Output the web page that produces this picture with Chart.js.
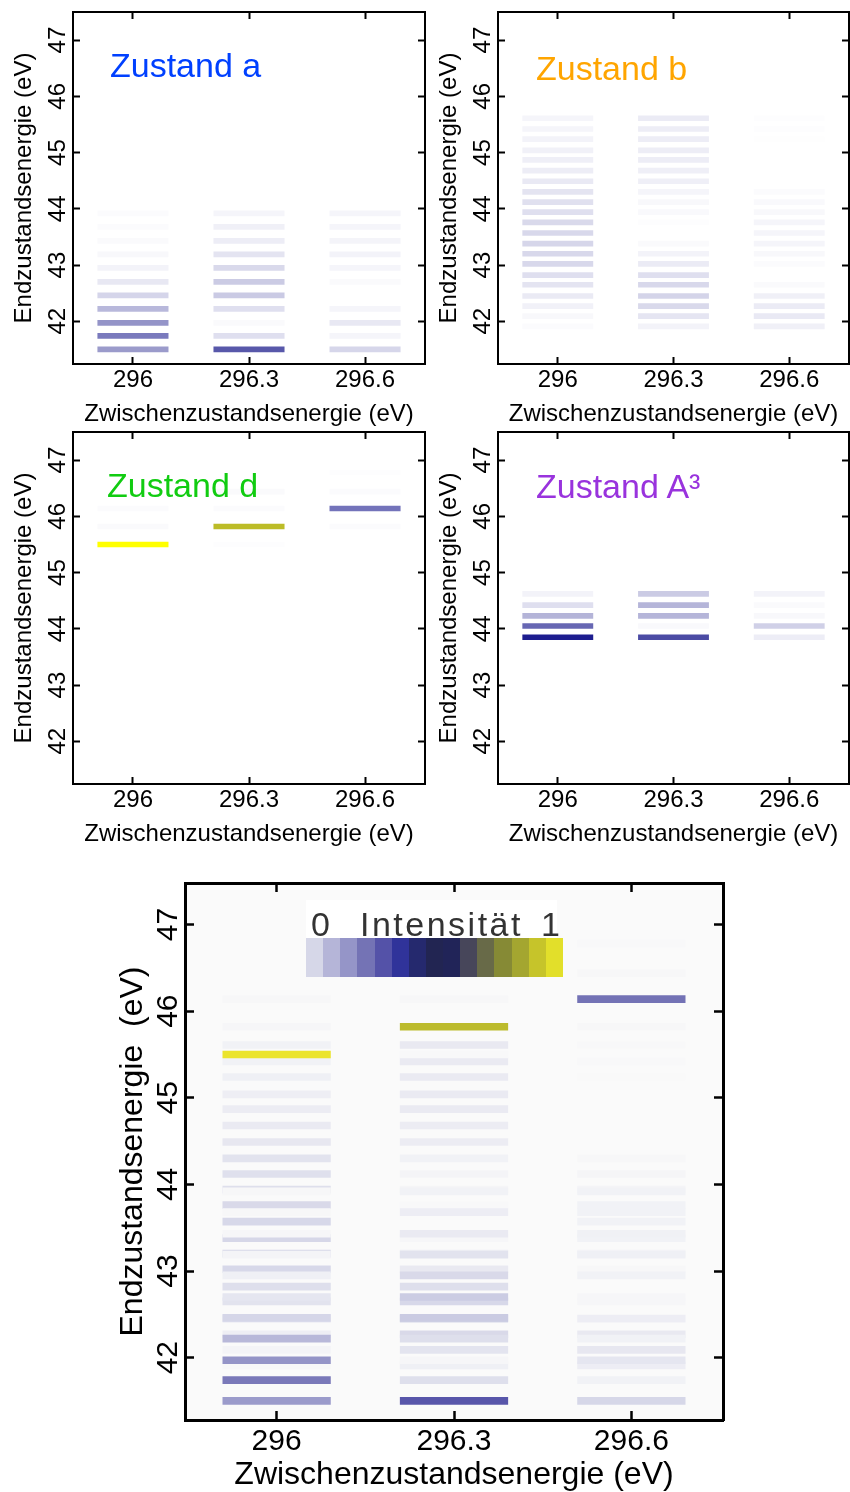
<!DOCTYPE html>
<html>
<head>
<meta charset="utf-8">
<script src="https://cdn.jsdelivr.net/npm/chart.js@4.4.1/dist/chart.umd.min.js"></script>
<style>
html,body{margin:0;padding:0;background:#fff;}
#wrap{position:relative;width:850px;height:1492px;overflow:hidden;font-family:"Liberation Sans",Arial,sans-serif;}
#wrap canvas{position:absolute;}
.state{position:absolute;font-size:34px;line-height:34px;white-space:nowrap;}
#cbar{position:absolute;left:306px;top:900px;width:257px;height:77px;}
#cbarBox{position:absolute;left:0;top:0;width:251px;height:38px;background:#fff;}
.cbt{position:absolute;top:7px;font-size:34px;line-height:34px;color:#333;white-space:nowrap;}
.cell{position:absolute;top:38px;height:39px;}
</style>
</head>
<body>
<div id="wrap">
<canvas id="cA" width="430" height="430" style="left:0;top:0"></canvas>
<canvas id="cB" width="425" height="430" style="left:425px;top:0"></canvas>
<canvas id="cD" width="430" height="430" style="left:0;top:420px"></canvas>
<canvas id="cA3" width="425" height="430" style="left:425px;top:420px"></canvas>
<canvas id="cAll" width="850" height="642" style="left:0;top:850px"></canvas>
<div class="state" style="left:110px;top:48px;color:#0040ff">Zustand a</div>
<div class="state" style="left:536px;top:51px;color:#ffa500">Zustand b</div>
<div class="state" style="left:107px;top:468px;color:#11cc11">Zustand d</div>
<div class="state" style="left:536px;top:469px;color:#9933dd">Zustand A³</div>
<div id="cbar"><div id="cbarBox"></div>
<span class="cbt" style="left:5px">0</span>
<span class="cbt" style="left:54px;letter-spacing:2.5px">Intensität</span>
<span class="cbt" style="left:235px">1</span>
</div>
</div>
<script>
// ---------- data ----------
const columns = [296, 296.3, 296.6];
const xTicks = [296, 296.3, 296.6];
const yTicks = [42, 43, 44, 45, 46, 47];

// Zustand a
const energiesA = [41.50, 41.74, 41.97, 42.22, 42.46, 42.70, 42.95, 43.19, 43.43, 43.68, 43.92];
const intensA_296  = [0.154, 0.221, 0.169, 0.094, 0.035, 0.019, 0.010, 0.006, 0.004, 0.003, 0.003];
const intensA_2963 = [0.292, 0.026, 0.004, 0.026, 0.057, 0.055, 0.031, 0.022, 0.015, 0.012, 0.008];
const intensA_2966 = [0.033, 0.008, 0.019, 0.008, 0.000, 0.004, 0.008, 0.010, 0.009, 0.008, 0.008];

// Zustand b
const energiesB = [41.91, 42.09, 42.27, 42.45, 42.65, 42.82, 43.02, 43.20, 43.38, 43.57, 43.76,
                   43.94, 44.12, 44.30, 44.49, 44.68, 44.87, 45.04, 45.24, 45.42, 45.61];
const intensB_296  = [0.003, 0.006, 0.011, 0.017, 0.022, 0.026, 0.032, 0.032, 0.034, 0.032, 0.031,
                      0.026, 0.025, 0.022, 0.018, 0.015, 0.013, 0.011, 0.010, 0.008, 0.008];
const intensB_2963 = [0.010, 0.021, 0.031, 0.037, 0.032, 0.026, 0.016, 0.010, 0.004, 0.000, 0.002,
                      0.005, 0.006, 0.008, 0.013, 0.013, 0.015, 0.015, 0.015, 0.015, 0.016];
const intensB_2966 = [0.012, 0.018, 0.016, 0.012, 0.004, 0.000, 0.003, 0.006, 0.008, 0.008, 0.008,
                      0.006, 0.005, 0.003, 0.000, 0.000, 0.000, 0.000, 0.001, 0.002, 0.002];

// Zustand d
const energiesD = [45.50, 45.82, 46.14, 46.44, 46.78];
const intensD_296  = [1.000, 0.004, 0.003, 0.000, 0.000];
const intensD_2963 = [0.002, 0.880, 0.003, 0.004, 0.000];
const intensD_2966 = [0.000, 0.003, 0.235, 0.003, 0.002];

// Zustand A³
const energiesA3 = [43.85, 44.05, 44.23, 44.42, 44.62];
const intensA3_296  = [0.433, 0.260, 0.103, 0.026, 0.010];
const intensA3_2963 = [0.317, 0.005, 0.100, 0.100, 0.055];
const intensA3_2966 = [0.015, 0.045, 0.006, 0.004, 0.010];

// colour scales
const cbarColors = ['#d6d7e8','#b5b5d8','#9595c8','#7473b5','#5452a8','#30339a','#25296e','#222552',
                    '#212458','#47465a','#686a48','#868a35','#a4a630','#c6c42a','#e2df2a'];
const panelColors = ['#d6d6ea','#b5b5d9','#9595c8','#7474ba','#5454a8','#30309a','#1d1d8f','#1c1c6e',
                     '#1e1e50','#464650','#686846','#8c8c34','#a8a82c','#c4c425','#ebeb10'];

// ---------- helpers ----------
const FONT = '"Liberation Sans", Arial, sans-serif';
const HALF = 0.091;
const xRange = [295.845, 296.755];

function hex2rgb(h){h=h.replace('#','');return [0,2,4].map(i=>parseInt(h.substr(i,2),16));}
function makeCmap(lo, cells, hi){
  const pos=[0, ...cells.map((c,i)=>(i+0.5)/cells.length), 1];
  const cols=[lo, ...cells, hi].map(hex2rgb);
  return t=>{
    t=Math.max(0,Math.min(1,t));
    let i=0; while(i<pos.length-2 && t>pos[i+1]) i++;
    const f=(t-pos[i])/(pos[i+1]-pos[i]); const a=cols[i], b=cols[i+1];
    return 'rgb('+a.map((v,k)=>Math.round(v+(b[k]-v)*f)).join(',')+')';
  };
}
const panelCmap = makeCmap('#ffffff', panelColors, '#ffff00');
const bigCmap = makeCmap('#fafafa', cbarColors, '#ebe42c');

function stateBars(energies, intensByCol){
  const pts=[];
  columns.forEach((c,ci)=>energies.forEach((e,i)=>{
    const t=intensByCol[ci][i];
    if(t>0) pts.push({x:[c-HALF,c+HALF], y:e, t:t});
  }));
  return pts;
}
function ds(pts, cmap, thick){
  return {data:pts, backgroundColor:ctx=>ctx.raw?cmap(ctx.raw.t):'#fff', borderWidth:0,
          barThickness:thick, grouped:false, xAxisID:'x', yAxisID:'y'};
}

const plotBg={id:'plotBg',beforeDraw(chart,args,opts){
  const {ctx,chartArea:a}=chart; ctx.save(); ctx.fillStyle=opts.color||'#fff';
  ctx.fillRect(a.left,a.top,a.right-a.left,a.bottom-a.top); ctx.restore();}};

function noPad(s){s.paddingTop=0;s.paddingBottom=0;s.paddingLeft=0;s.paddingRight=0;}

function makeChart(id, datasets, L){
  const grid={drawOnChartArea:false,drawTicks:true,tickLength:-L.tl,tickWidth:L.tw,tickColor:'#000',offset:false};
  const border={display:true,width:L.bw,color:'#000'};
  const setX=s=>{s.ticks=xTicks.map(v=>({value:v}));};
  const setY=s=>{s.ticks=yTicks.map(v=>({value:v}));};
  return new Chart(document.getElementById(id),{
    type:'bar',
    data:{datasets},
    options:{
      responsive:false, animation:false, indexAxis:'y', events:[],
      layout:{padding:0},
      plugins:{legend:{display:false},tooltip:{enabled:false},plotBg:{color:L.bg}},
      scales:{
        x:{type:'linear',position:'bottom',min:xRange[0],max:xRange[1],offset:false,
           afterBuildTicks:setX, afterFit:s=>{s.height=L.bottom;noPad(s);},
           ticks:{callback:v=>String(v),font:{family:FONT,size:L.tickSize},color:'#000',
                  padding:L.xTickPad,autoSkip:false,maxRotation:0,minRotation:0},
           grid, border,
           title:{display:true,text:'Zwischenzustandsenergie (eV)',font:{family:FONT,size:L.titleSize},
                  color:'#000',padding:{top:0,bottom:L.xTitlePad}}},
        x2:{type:'linear',position:'top',min:xRange[0],max:xRange[1],offset:false,
           afterBuildTicks:setX, afterFit:s=>{s.height=L.top;noPad(s);},
           ticks:{display:false}, grid, border},
        y:{type:'linear',position:'left',min:L.y0,max:L.y1,offset:false,
           afterBuildTicks:setY, afterFit:s=>{s.width=L.left;noPad(s);},
           ticks:{callback:v=>String(v),font:{family:FONT,size:L.tickSize},color:'#000',
                  padding:L.yTickPad,autoSkip:false,minRotation:90,maxRotation:90,crossAlign:'center'},
           grid, border,
           title:{display:true,text:L.ytitle,font:{family:FONT,size:L.titleSize},
                  color:'#000',padding:{top:L.yTitlePad,bottom:0}}},
        y2:{type:'linear',position:'right',min:L.y0,max:L.y1,offset:false,
           afterBuildTicks:setY, afterFit:s=>{s.width=L.right;noPad(s);},
           ticks:{display:false}, grid, border}
      }
    },
    plugins:[plotBg]
  });
}

const small={left:73,top:12,bottom:66,tl:7,tw:2,bw:2,tickSize:24,titleSize:24,xTickPad:9,yTickPad:8,
             xTitlePad:1,yTitlePad:10,y0:41.24,y1:47.5,bg:'#ffffff',ytitle:'Endzustandsenergie (eV)'};

const barsA = stateBars(energiesA,[intensA_296,intensA_2963,intensA_2966]);
const barsB = stateBars(energiesB,[intensB_296,intensB_2963,intensB_2966]);
const barsD = stateBars(energiesD,[intensD_296,intensD_2963,intensD_2966]);
const barsA3 = stateBars(energiesA3,[intensA3_296,intensA3_2963,intensA3_2966]);

makeChart('cA',[ds(barsA,panelCmap,5)],Object.assign({},small,{right:5}));
makeChart('cB',[ds(barsB,panelCmap,5)],Object.assign({},small,{right:1}));
makeChart('cD',[ds(barsD,panelCmap,5)],Object.assign({},small,{right:5}));
makeChart('cA3',[ds(barsA3,panelCmap,5)],Object.assign({},small,{right:1}));

// first dataset is drawn on top: d over a over b
makeChart('cAll',[ds(barsD,bigCmap,7),ds(barsA,bigCmap,7),ds(barsB,bigCmap,7)],
  {left:185,right:127,top:33,bottom:72,tl:9,tw:2.5,bw:3,tickSize:30,titleSize:32,xTickPad:13,yTickPad:9,
   xTitlePad:-2,yTitlePad:114,y0:41.28,y1:47.48,bg:'#fafafa',ytitle:'Endzustandsenergie  (eV)'});

// colour bar legend cells
const cbar=document.getElementById('cbar');
const cw=257/cbarColors.length;
cbarColors.forEach((c,i)=>{const d=document.createElement('div');d.className='cell';
  d.style.left=(i*cw)+'px';d.style.width=(cw+0.5)+'px';d.style.background=c;cbar.appendChild(d);});
</script>
</body>
</html>
